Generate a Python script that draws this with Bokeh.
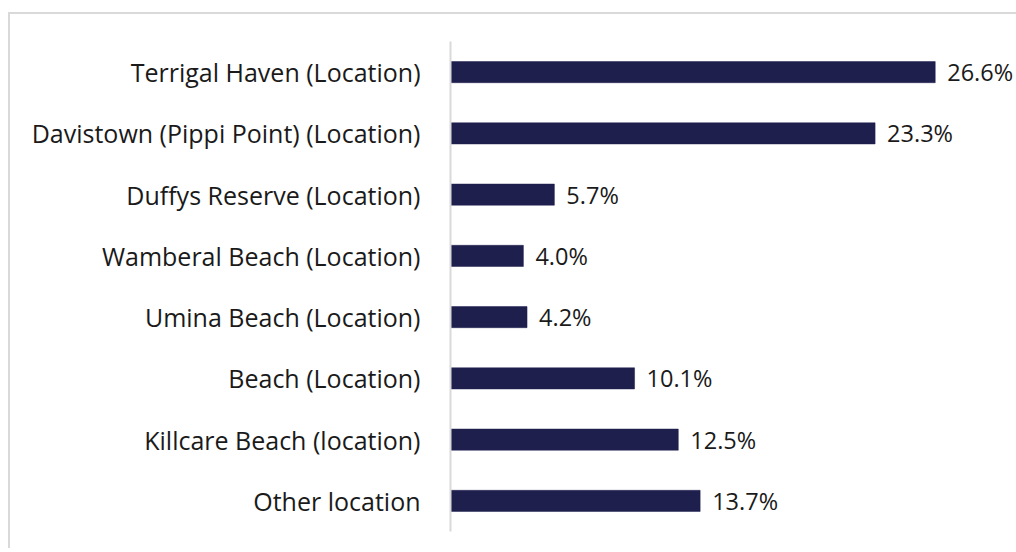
from bokeh.plotting import figure
from bokeh.models import ColumnDataSource, FactorRange, Range1d
from bokeh.core.properties import value
from bokeh.embed import file_html
from bokeh.resources import INLINE

categories = [
    "Terrigal Haven (Location)",
    "Davistown (Pippi Point) (Location)",
    "Duffys Reserve (Location)",
    "Wamberal Beach (Location)",
    "Umina Beach (Location)",
    "Beach (Location)",
    "Killcare Beach (location)",
    "Other location",
]
values = [26.6, 23.3, 5.7, 4.0, 4.2, 10.1, 12.5, 13.7]
labels = ["26.6%", "23.3%", "5.7%", "4.0%", "4.2%", "10.1%", "12.5%", "13.7%"]

FONT = "Open Sans"
BAR = "#1f1f4e"

source = ColumnDataSource(data=dict(cat=categories, val=values, lab=labels))

p = figure(
    width=1008,
    height=536,
    y_range=FactorRange(factors=list(reversed(categories)), range_padding=0),
    x_range=Range1d(0, 31.17),
    output_backend="svg",
    toolbar_location=None,
    min_border_left=440,
    min_border_right=0,
    min_border_top=27,
    min_border_bottom=19,
)
p.styles = {
    "border-top": "2px solid #d9d9d9",
    "border-left": "2px solid #d9d9d9",
    "margin-top": "12px",
    "margin-left": "8px",
}

p.hbar(y="cat", right="val", left=0, height=0.345, source=source,
       fill_color=BAR, line_color=BAR, line_width=0.5)

p.text(x="val", y="cat", text="lab", source=source, x_offset=12,
       text_baseline="middle", text_align="left",
       text_font=value(FONT), text_font_size="23.5px", text_color="#1a1a1a")

p.xaxis.visible = False
p.xgrid.visible = False
p.ygrid.visible = False
p.outline_line_color = None

ya = p.yaxis[0]
ya.axis_line_color = "#d9d9d9"
ya.axis_line_width = 2
ya.major_tick_line_color = None
ya.minor_tick_line_color = None
ya.major_label_standoff = 24
ya.major_label_text_font = FONT
ya.major_label_text_font_size = "25px"
ya.major_label_text_color = "#1a1a1a"

open("out.html", "w").write(file_html(p, INLINE))
